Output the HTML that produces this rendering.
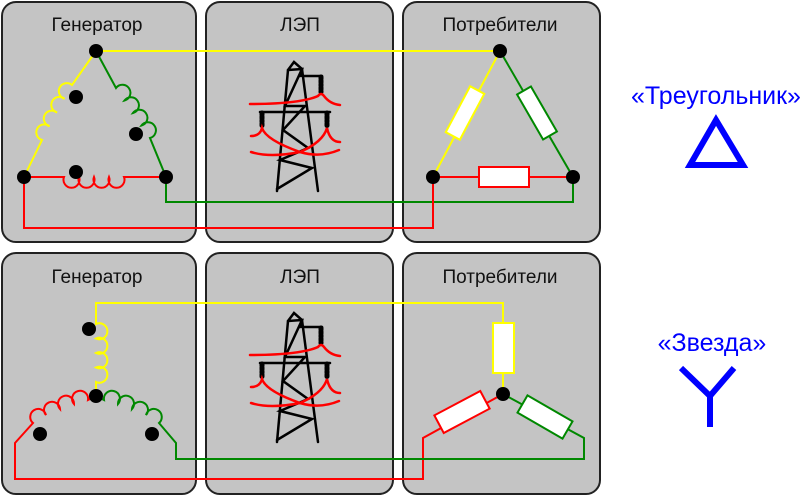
<!DOCTYPE html>
<html><head><meta charset="utf-8"><style>
html,body{margin:0;padding:0;background:#fff;width:800px;height:496px;overflow:hidden}
svg{display:block}
text{font-family:"Liberation Sans",sans-serif}
.lab{font-size:19px;fill:#111}
.big{font-size:25px;fill:#0000ff}
</style></head><body>
<svg width="800" height="496" viewBox="0 0 800 496" xmlns="http://www.w3.org/2000/svg">
<defs>
<g id="tower" fill="none" stroke-linecap="round">
 <g stroke="#000" stroke-width="2.5">
  <path d="M277,191 L288,70 L294,62 L302,69 L318,191"/>
  <path d="M288,70 L302,69 L285,106 L305,106 L283,130 L308,148 L280,160 L312,168 L277,189"/>
  <path d="M302,76 L322,76 M260,112 L330,112 M302,69 L300,76"/>
 </g>
 <g stroke="#000" stroke-width="5" stroke-dasharray="2 1.5">
  <path d="M321,77 L321,92 M262,113 L262,127 M327,113 L327,127"/>
 </g>
 <g stroke="#f00" stroke-width="2.5">
  <path d="M250,104 Q300,104 318,96 Q321,92 324,96 Q330,104 340,105"/>
  <path d="M251,136 Q260,136 262,128 Q266,140 300,152 Q320,158 339,150"/>
  <path d="M251,152 Q270,158 300,152 Q323,142 327,128 Q330,142 340,142"/>
 </g>
</g>
</defs>

<g fill="#c4c4c4" stroke="#222" stroke-width="2">
 <rect x="2" y="2" width="194" height="240" rx="14"/>
 <rect x="206" y="2" width="187" height="240" rx="14"/>
 <rect x="403" y="2" width="197" height="240" rx="14"/>
 <rect x="2" y="253" width="194" height="241" rx="14"/>
 <rect x="206" y="253" width="187" height="241" rx="14"/>
 <rect x="403" y="253" width="197" height="241" rx="14"/>
</g>
<text class="lab" x="97" y="31" text-anchor="middle">Генератор</text>
<text class="lab" x="300" y="31" text-anchor="middle">ЛЭП</text>
<text class="lab" x="500" y="31" text-anchor="middle">Потребители</text>
<text class="lab" x="97" y="283" text-anchor="middle">Генератор</text>
<text class="lab" x="300" y="283" text-anchor="middle">ЛЭП</text>
<text class="lab" x="500" y="283" text-anchor="middle">Потребители</text>

<use href="#tower"/>
<use href="#tower" transform="translate(0,251)"/>

<g fill="none" stroke-width="2">
 <path stroke="#ff0" d="M96,51 L500,51"/>
 <path stroke="#ff0" d="M24,177 L42,140 a8,8 0 1 1 7.5,-13.75 a8,8 0 1 1 7.5,-13.75 a8,8 0 1 1 7.5,-13.75 a8,8 0 1 1 7.5,-13.75 L96,51"/>
 <path stroke="#080" d="M96,51 L116,88 a8,8 0 1 1 8.5,12.5 a8,8 0 1 1 8.5,12.5 a8,8 0 1 1 8.5,12.5 a8,8 0 1 1 8.5,12.5 L166,177 L166,202 L573,202 L573,177"/>
 <path stroke="#f00" d="M24,177 L64,177 a8,8 0 1 0 15,0 a8,8 0 1 0 15,0 a8,8 0 1 0 15,0 a8,8 0 1 0 15,0 L166,177"/>
 <path stroke="#f00" d="M24,177 L24,228 L433,228 L433,177 L573,177"/>
 <path stroke="#ff0" d="M433,177 L500,51"/>
 <path stroke="#080" d="M500,51 L573,177"/>
</g>
<g stroke-width="2" fill="#fff">
 <rect x="457" y="87" width="16" height="52" stroke="#ff0" transform="rotate(28 465 113)"/>
 <rect x="529" y="87" width="16" height="52" stroke="#080" transform="rotate(-30 537 113)"/>
 <rect x="479" y="167" width="50" height="20" stroke="#f00"/>
</g>
<g fill="#000">
 <circle cx="96" cy="51" r="7"/><circle cx="24" cy="177" r="7"/><circle cx="166" cy="177" r="7"/>
 <circle cx="76" cy="97" r="7"/><circle cx="136" cy="134" r="7"/><circle cx="76" cy="172" r="7"/>
 <circle cx="500" cy="51" r="7"/><circle cx="433" cy="177" r="7"/><circle cx="573" cy="177" r="7"/>
</g>

<g fill="none" stroke-width="2">
 <path stroke="#ff0" d="M96,396 L96,382 a8,8 0 1 0 0,-14.5 a8,8 0 1 0 0,-14.5 a8,8 0 1 0 0,-14.5 a8,8 0 1 0 0,-14.5 L96,303 L503,303 L503,394"/>
 <path stroke="#f00" d="M96,396 L88,400 a8,8 0 1 0 -14,4 a8,8 0 1 0 -14,5 a8,8 0 1 0 -14,6 a8,8 0 1 0 -13,8 L15,443 L15,479 L423,479 L423,438 L503,394"/>
 <path stroke="#080" d="M96,396 L104,400 a8,8 0 1 1 14,4 a8,8 0 1 1 14,5 a8,8 0 1 1 14,6 a8,8 0 1 1 13,8 L176,443 L176,459 L584,459 L584,438 L503,394"/>
</g>
<g stroke-width="2" fill="#fff">
 <rect x="493" y="323" width="21" height="50" stroke="#ff0"/>
 <rect x="436" y="402" width="52" height="20" stroke="#f00" transform="rotate(-28 462 412)"/>
 <rect x="519" y="407" width="52" height="20" stroke="#080" transform="rotate(30 545 417)"/>
</g>
<g fill="#000">
 <circle cx="96" cy="396" r="7"/><circle cx="89" cy="329" r="7"/><circle cx="40" cy="434" r="7"/><circle cx="152" cy="434" r="7"/>
 <circle cx="503" cy="394" r="7"/>
</g>

<text class="big" x="716" y="104" text-anchor="middle">«Треугольник»</text>
<text class="big" x="712" y="351" text-anchor="middle">«Звезда»</text>
<polygon points="716,120 690,165 743,165" fill="none" stroke="#0000ff" stroke-width="6"/>
<path d="M681,368 L710,396 L734,368 M710,396 L710,427" fill="none" stroke="#0000ff" stroke-width="6"/>
</svg>
</body></html>
